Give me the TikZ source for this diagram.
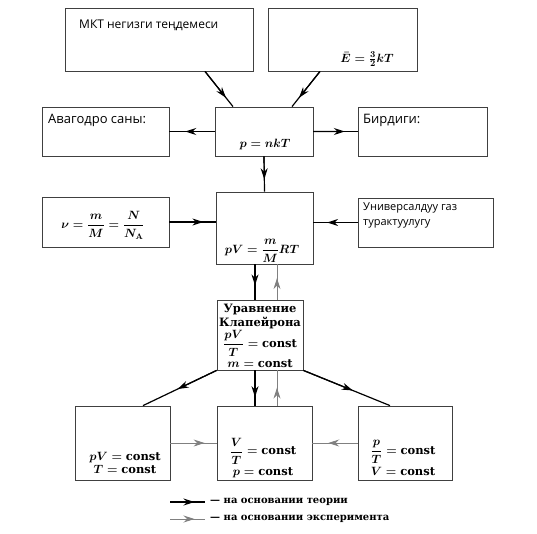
\documentclass[tikz,border=0pt]{standalone}
\usepackage{fontspec}
\setmainfont{DejaVu Serif}
\newfontfamily\kgsans{Open Sans}
\usetikzlibrary{arrows.meta,calc,positioning}

\tikzset{
  block/.style={draw=black!75, line width=0.8pt, inner sep=0pt},
  sans/.style={font=\kgsans\fontsize{13}{16}\selectfont, inner sep=0pt},
  formula/.style={font=\fontsize{11.5}{13.5}\selectfont\boldmath\bfseries, inner sep=0pt},
  legendtext/.style={font=\fontsize{10}{12}\selectfont\bfseries, inner sep=0pt, anchor=west},
  theory/.style={draw=black, line width=1.2pt},
  experiment/.style={draw=black!50, line width=0.9pt},
  headtip/.style={-{Stealth[length=11pt,width=7pt]}},
}
\newcommand{\flowto}[4]{%
  \draw[#1] (#3) -- (#4);
  \draw[#1, headtip] (#3) -- ($(#3)!#2!(#4)$);
}

\begin{document}
\begin{tikzpicture}[x=1pt,y=-1pt]
  \useasboundingbox (0,0) rectangle (537,533);

  \node[block, minimum width=188pt, minimum height=63pt] (mkt) at (159,39.5) {};
  \node[block, minimum width=149pt, minimum height=63pt] (energy) at (342.5,39.5) {};
  \node[block, minimum width=98pt, minimum height=49pt] (pnkt) at (264,131.5) {};
  \node[block, minimum width=127pt, minimum height=49pt] (avog) at (105.5,131.5) {};
  \node[block, minimum width=129pt, minimum height=49pt] (unit) at (422.5,131.5) {};
  \node[block, minimum width=97pt, minimum height=72pt] (pv) at (264.5,228) {};
  \node[block, minimum width=127pt, minimum height=50pt] (molar) at (105.5,222) {};
  \node[block, minimum width=135pt, minimum height=49pt] (rgas) at (425.5,222.5) {};
  \node[block, minimum width=86pt, minimum height=70pt] (clap) at (260,335) {};
  \node[block, minimum width=95pt, minimum height=74pt] (isot) at (122.5,443) {};
  \node[block, minimum width=95pt, minimum height=74pt] (isob) at (264.5,443) {};
  \node[block, minimum width=94pt, minimum height=74pt] (isoch) at (405,443) {};

  \node[sans, anchor=base west, font=\kgsans\fontsize{12}{15}\selectfont] (mkttxt) at (79,28) {МКТ негизги теңдемеси};
  \node[formula, font=\fontsize{13}{15}\selectfont\boldmath\bfseries] (energytxt) at (367,59) {$\bar{E}=\frac{3}{2}kT$};
  \node[formula] (pnkttxt) at (265,144) {$p=nkT$};
  \node[sans, anchor=west] (avogtxt) at (48,120) {Авагодро саны:};
  \node[sans, anchor=west] (unittxt) at (363,120) {Бирдиги:};
  \node[formula] (molartxt) at (103,225) {$\displaystyle\nu=\frac{m}{M}=\frac{N}{N_{\mathbf{A}}}$};
  \node[formula] (pvtxt) at (262,251) {$\displaystyle pV=\frac{m}{M}RT$};
  \node[sans, anchor=west, align=left, font=\kgsans\fontsize{11}{15}\selectfont] (rgastxt) at (363,215) {Универсалдуу газ\\турактуулугу};
  \node[formula, align=center, anchor=north] (claptxt) at (260,304) {Уравнение\\Клапейрона\\[1pt]$\displaystyle\frac{pV}{T}=\mbox{const}$\\[2pt]$m=\mbox{const}$};
  \node[formula, align=center] (isottxt) at (125,463) {$pV=\mbox{const}$\\$T=\mbox{const}$};
  \node[formula, align=center] (isobtxt) at (263,458) {$\displaystyle\frac{V}{T}=\mbox{const}$\\[3pt]$p=\mbox{const}$};
  \node[formula, align=center] (isochtxt) at (403,458) {$\displaystyle\frac{p}{T}=\mbox{const}$\\[3pt]$V=\mbox{const}$};

  \coordinate (mktout) at ([xshift=46pt]mkt.south);
  \coordinate (mktin) at ([xshift=-31pt]pnkt.north);
  \coordinate (enout) at ([xshift=-22.5pt]energy.south);
  \coordinate (enin) at ([xshift=28pt]pnkt.north);
  \coordinate (molarin) at (molar.east -| pv.west);
  \coordinate (rgasin) at (rgas.west -| pv.east);
  \coordinate (pvdown) at ([xshift=-9.5pt]pv.south);
  \coordinate (pvup) at ([xshift=12.5pt]pv.south);
  \coordinate (clapdownin) at (pvdown |- clap.north);
  \coordinate (clapupout) at (pvup |- clap.north);
  \coordinate (clapdown) at ([xshift=-5pt]clap.south);
  \coordinate (clapup) at ([xshift=17pt]clap.south);
  \coordinate (isobdownin) at (clapdown |- isob.north);
  \coordinate (isobupout) at (clapup |- isob.north);
  \coordinate (isotin) at ([xshift=20.5pt]isot.north);
  \coordinate (isochin) at ([xshift=-15pt]isoch.north);
  \coordinate (isotout) at (isot.east -| isob.west);
  \coordinate (isochout) at (isoch.west -| isob.east);

  \flowto{theory}{0.75}{mktout}{mktin}
  \flowto{theory}{0.75}{enout}{enin}
  \flowto{theory}{0.65}{pnkt.west}{avog.east}
  \flowto{theory}{0.71}{pnkt.east}{unit.west}
  \flowto{theory}{0.65}{pnkt.south}{pv.north}
  \draw[theory] (molar.east) -- (molarin);
  \draw[theory, headtip] (molar.east) -- ++(34,0);
  \flowto{theory}{0.69}{rgas.west}{rgasin}
  \draw[theory] (pvdown) -- (clapdownin);
  \draw[theory, headtip] (pvdown) -- ++(0,21);
  \flowto{experiment}{0.61}{clapupout}{pvup}
  \flowto{theory}{0.76}{clapdown}{isobdownin}
  \flowto{experiment}{0.51}{isobupout}{clapup}
  \flowto{theory}{0.53}{clap.south west}{isotin}
  \flowto{theory}{0.57}{clap.south east}{isochin}
  \flowto{experiment}{0.74}{isot.east}{isotout}
  \flowto{experiment}{0.65}{isoch.west}{isochout}

  \coordinate (legAa) at (170,502);
  \coordinate (legAb) at (205,502);
  \coordinate (legBa) at (170,519);
  \coordinate (legBb) at (205,519);
  \flowto{theory}{0.7}{legAa}{legAb}
  \flowto{experiment}{0.7}{legBa}{legBb}
  \node[legendtext] (legA) at (210,502) {— на основании теории};
  \node[legendtext] (legB) at (210,519) {— на основании эксперимента};
\end{tikzpicture}
\end{document}
